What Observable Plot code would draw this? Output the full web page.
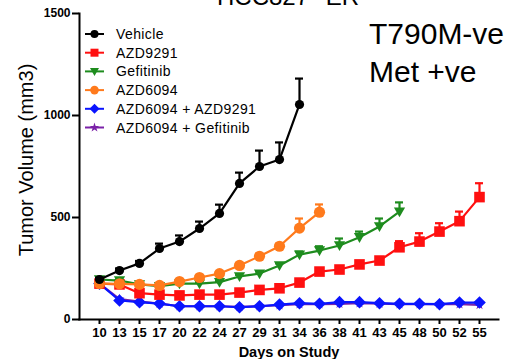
<!DOCTYPE html>
<html><head><meta charset="utf-8">
<script src="https://cdn.jsdelivr.net/npm/d3@7"></script>
<script src="https://cdn.jsdelivr.net/npm/@observablehq/plot@0.6"></script>
<style>
html,body{margin:0;padding:0;background:#fff;}
#chart{position:relative;width:514px;height:359px;overflow:hidden;}
#chart svg{font-family:"Liberation Sans",Arial,sans-serif;display:block;}
</style></head><body><div id="chart"></div>
<script>
// Days on study (categorical, evenly spaced)
const days = [10,13,15,17,20,22,24,27,29,31,34,36,38,41,43,45,48,50,52,55];
const yTicks = [0,500,1000,1500];

const vehicle      = [196,240,275,348,382,446,520,667,750,784,1054];
const vehicleErr   = [8,10,12,24,30,34,43,53,78,84,127];
const azd9291      = [176,172,129,122,118,122,122,132,145,153,181,235,245,270,289,354,382,431,482,600];
const azd9291Err   = [6,8,8,6,6,6,6,6,8,10,10,12,10,12,14,30,41,41,47,68];
const gefitinib    = [196,191,172,163,176,176,183,211,225,265,318,338,363,403,456,529];
const gefitinibErr = [5,6,6,6,6,6,6,8,10,10,15,21,34,28,39,45];
const azd6094      = [176,175,172,167,186,206,225,265,310,359,448,526];
const azd6094Err   = [5,5,5,6,6,6,8,10,12,12,47,38];
const combo9291    = [176,93,85,78,65,65,65,60,65,73,80,77,85,85,80,77,77,75,83,83];
const comboGef     = [176,100,88,78,65,65,65,62,65,70,75,75,77,80,78,75,75,75,75,72];

const seriesNames = ["Vehicle","AZD9291","Gefitinib","AZD6094","AZD6094 + AZD9291","AZD6094 + Gefitinib"];

// custom symbols (r derived from Plot's size = PI r^2)
const rad = s => Math.sqrt(s / Math.PI);
const sqSym  = {draw(c,s){const r=rad(s);c.moveTo(-r,-r);c.lineTo(r,-r);c.lineTo(r,r);c.lineTo(-r,r);c.closePath();}};
const diaSym = {draw(c,s){const r=rad(s);c.moveTo(0,-r);c.lineTo(r,0);c.lineTo(0,r);c.lineTo(-r,0);c.closePath();}};
const triDn  = {draw(c,s){const r=rad(s);c.moveTo(-r,-0.75*r);c.lineTo(r,-0.75*r);c.lineTo(0,r);c.closePath();}};
const cirSym = {draw(c,s){const r=rad(s);c.moveTo(r,0);c.arc(0,0,r,0,2*Math.PI);}};
const starSym = d3.symbolStar;

const series = [
  {name:seriesNames[5], values:comboGef,  err:null,         color:"#7b22a8", symbol:starSym, r:3.2, lr:3},
  {name:seriesNames[4], values:combo9291, err:null,         color:"#0a14ff", symbol:diaSym,  r:6.3, lr:5},
  {name:seriesNames[1], values:azd9291,   err:azd9291Err,   color:"#ff1010", symbol:sqSym,   r:5.3, lr:4},
  {name:seriesNames[2], values:gefitinib, err:gefitinibErr, color:"#1e8c1e", symbol:triDn,   r:5.6, lr:4.5},
  {name:seriesNames[3], values:azd6094,   err:azd6094Err,   color:"#ff7a1c", symbol:cirSym,  r:5.6, lr:4.3},
  {name:seriesNames[0], values:vehicle,   err:vehicleErr,   color:"#000000", symbol:cirSym,  r:4.6, lr:4}
];

const marks = [];
for (const s of series) {
  const rows = s.values.map((v,i) => ({day:days[i], value:v, top: v + (s.err ? s.err[i] : 0)}));
  marks.push(Plot.line(rows, {x:"day", y:"value", stroke:s.color, strokeWidth:2.2}));
  if (s.err) {
    marks.push(Plot.ruleX(rows, {x:"day", y1:"value", y2:"top", stroke:s.color, strokeWidth:2.2}));
    marks.push(Plot.ruleY(rows, {x1:"day", x2:"day", y:"top", stroke:s.color, strokeWidth:2.2, insetLeft:-4, insetRight:-4}));
  }
  marks.push(Plot.dot(rows, {x:"day", y:"value", fill:s.color, stroke:"none", symbol:()=>s.symbol, r:s.r}));
}

const plot = Plot.plot({
  width:514, height:359,
  marginLeft:79, marginRight:16, marginTop:13, marginBottom:40,
  insetLeft:11, insetRight:10,
  style:{fontFamily:"'Liberation Sans',Arial,sans-serif", background:"#fff", color:"#000"},
  x:{type:"point", domain:days, padding:0},
  y:{domain:[0,1500]},
  marks:[
    Plot.frame({anchor:"left", stroke:"#000", strokeWidth:2}),
    Plot.frame({anchor:"bottom", stroke:"#000", strokeWidth:2}),
    Plot.axisY({ticks:yTicks, tickFormat:d => String(d), tickSize:7, tickPadding:2, fontSize:12, fontWeight:"bold", label:null, strokeWidth:2}),
    Plot.axisX({tickSize:5, tickPadding:3, fontSize:13, fontWeight:"bold", label:null, strokeWidth:2}),
    ...marks
  ]
});
document.getElementById("chart").appendChild(plot);

const svg = d3.select(plot);
// titles
svg.append("text").attr("x",217).attr("y",5).attr("text-anchor","start").attr("word-spacing",10)
  .attr("font-size",24).attr("fill","#000").text("HCC827 ER");
svg.append("text").attr("x",369).attr("y",44).attr("text-anchor","start").attr("font-size",30).attr("fill","#000").text("T790M-ve");
svg.append("text").attr("x",369).attr("y",82).attr("text-anchor","start").attr("font-size",30).attr("fill","#000").text("Met +ve");
svg.append("text").attr("transform","translate(33,160) rotate(-90)").attr("text-anchor","middle")
  .attr("font-size",20).attr("fill","#000").text("Tumor Volume (mm3)");
svg.append("text").attr("x",289).attr("y",357).attr("text-anchor","middle")
  .attr("font-size",14.5).attr("font-weight","bold").attr("fill","#000").text("Days on Study");

// legend
const legendOrder = [5,2,3,4,1,0].map(i => series[i]);
const lg = svg.append("g").attr("text-anchor","start");
legendOrder.forEach((s,i) => {
  const y = 34 + i*18.7;
  const g = lg.append("g").attr("transform",`translate(0,${y})`);
  g.append("line").attr("x1",85).attr("x2",104).attr("stroke",s.color).attr("stroke-width",2);
  g.append("path").attr("transform","translate(94.5,0)")
    .attr("d", d3.symbol(s.symbol, Math.PI*s.lr*s.lr)()).attr("fill",s.color);
  g.append("text").attr("x",116).attr("dy","0.36em").attr("font-size",14).attr("letter-spacing",0.4)
    .attr("text-anchor","start").attr("fill","#000").text(s.name);
});
</script></body></html>
